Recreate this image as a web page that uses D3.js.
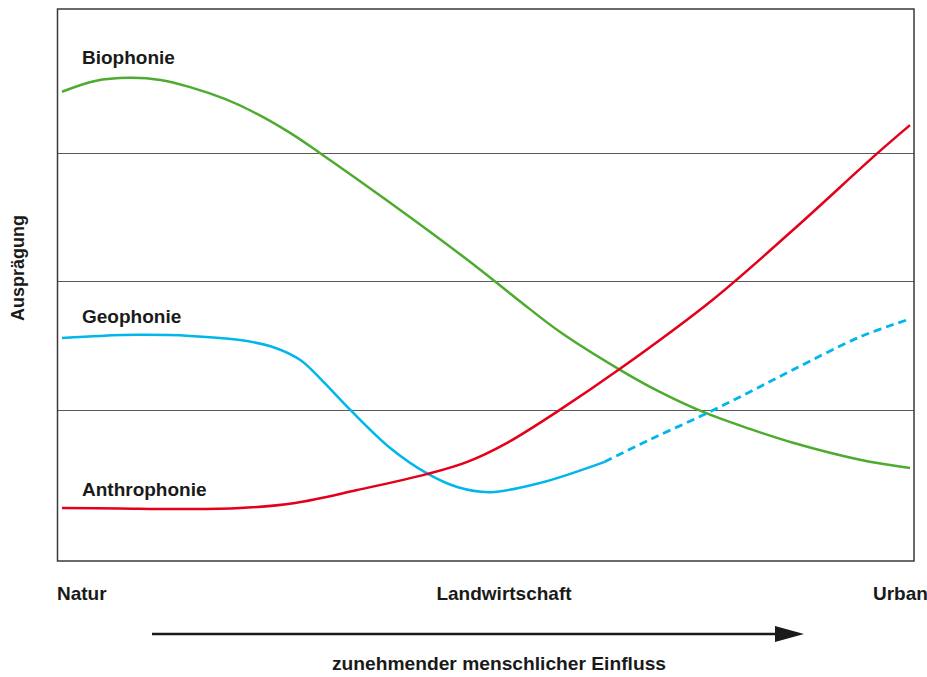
<!DOCTYPE html>
<html><head><meta charset="utf-8">
<script src="https://cdn.jsdelivr.net/npm/d3@7"></script>
<style>
html,body{margin:0;padding:0;background:#fff;}
text{font-family:"Liberation Sans",Arial,sans-serif;font-weight:bold;fill:#1a1a1a;}
</style></head>
<body>
<svg id="chart" width="927" height="677"></svg>
<script>
// x: 0 = Natur, 100 = Urban ; y: relative Ausprägung
const biophonieX = [0,3.9,7.9,11.6,15.1,19.2,23.0,26.9,30.4,38.7,47.8,53.8,58.7,65.8,70.5,75.6,81.1,86.2,94.1,100];
const biophonieY = [86.9,89.0,89.6,89.2,87.8,85.5,82.6,78.9,75.0,65.3,54.2,46.4,40.2,32.8,28.5,24.6,21.3,18.6,15.3,13.7];

const anthrophonieX = [0,6.8,13.9,21.0,27.5,34.8,43.0,47.8,52.5,58.7,65.8,76.7,86.2,96.2,100];
const anthrophonieY = [5.9,5.8,5.7,5.9,6.9,9.4,12.5,14.9,18.6,25.0,33.0,46.4,60.0,75.0,80.4];

const geophonieX = [0,4.5,9.2,15.1,21.0,25.1,28.1,30.4,34.0,38.7,43.0,46.6,50.5,56.4,64.0];
const geophonieY = [39.0,39.4,39.6,39.4,38.6,37.1,34.7,31.2,25.0,17.6,12.7,10.0,9.0,10.8,14.9];
const geophonieDashX = [64.0,69.3,75.6,81.1,86.2,94.1,100];
const geophonieDashY = [14.9,19.2,24.0,28.5,32.8,39.2,42.7];

const gridValues = [25,50,75];
const categories = ["Natur","Landwirtschaft","Urban"];
const seriesNames = ["Biophonie","Geophonie","Anthrophonie"];
const yTitle = "Ausprägung";
const xTitle = "zunehmender menschlicher Einfluss";

const svg = d3.select("#chart");
const x = d3.scaleLinear().domain([0,100]).range([62,910]);
const y = d3.scaleLinear().domain([-4.4,103]).range([561,9]);

const frameL = 57.5, frameR = 914, frameT = 9, frameB = 561;

// gridlines
svg.append("g").selectAll("line").data(gridValues).join("line")
  .attr("x1",frameL).attr("x2",frameR)
  .attr("y1",d=>Math.round(y(d))+0.5).attr("y2",d=>Math.round(y(d))+0.5)
  .attr("stroke","#5a5a5a").attr("stroke-width",1.2);

// frame
svg.append("rect").attr("x",frameL).attr("y",frameT)
  .attr("width",frameR-frameL).attr("height",frameB-frameT)
  .attr("fill","none").attr("stroke","#3a3a3a").attr("stroke-width",1.5);

const line = d3.line().x(d=>x(d[0])).y(d=>y(d[1])).curve(d3.curveCatmullRom.alpha(0.5));
const zip = (a,b)=>a.map((v,i)=>[v,b[i]]);

svg.append("path").datum(zip(biophonieX,biophonieY)).attr("d",line)
  .attr("fill","none").attr("stroke","#4dab2f").attr("stroke-width",2.5);
svg.append("path").datum(zip(geophonieX,geophonieY)).attr("d",line)
  .attr("fill","none").attr("stroke","#00b6ec").attr("stroke-width",2.5);
svg.append("path").datum(zip(geophonieDashX,geophonieDashY)).attr("d",line)
  .attr("fill","none").attr("stroke","#00b6ec").attr("stroke-width",2.8)
  .attr("stroke-dasharray","8,5");
svg.append("path").datum(zip(anthrophonieX,anthrophonieY)).attr("d",line)
  .attr("fill","none").attr("stroke","#e3001b").attr("stroke-width",2.5);

// series labels
const labelY = [64,323,496];
svg.append("g").selectAll("text").data(seriesNames).join("text")
  .attr("x",82).attr("y",(d,i)=>labelY[i]).attr("font-size",19).text(d=>d);

// category labels
svg.append("text").attr("x",57).attr("y",600).attr("font-size",19).text(categories[0]);
svg.append("text").attr("x",504).attr("y",600).attr("font-size",19).attr("text-anchor","middle").text(categories[1]);
svg.append("text").attr("x",873).attr("y",600).attr("font-size",19).text(categories[2]);

// y title
svg.append("text").attr("transform","translate(24,268) rotate(-90)")
  .attr("text-anchor","middle").attr("font-size",18).text(yTitle);

// arrow
svg.append("line").attr("x1",152).attr("x2",780).attr("y1",634).attr("y2",634)
  .attr("stroke","#1a1a1a").attr("stroke-width",2.5);
svg.append("path").attr("d","M775,626 L804,634 L775,642 Z").attr("fill","#1a1a1a");

svg.append("text").attr("x",332).attr("y",670).attr("font-size",17.5)
  .style("font-family","'Liberation Sans Narrow','Liberation Sans',Arial,sans-serif")
  .attr("textLength",334).attr("lengthAdjust","spacingAndGlyphs").text(xTitle);
</script>
</body></html>
